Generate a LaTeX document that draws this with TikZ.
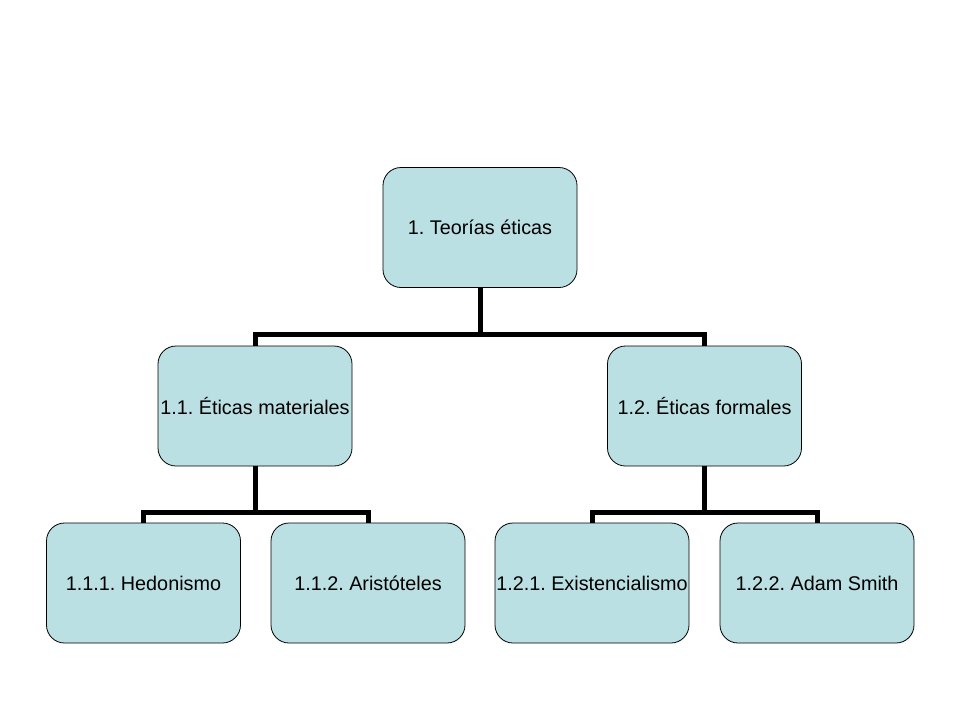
\documentclass[tikz,border=0pt]{standalone}
\usepackage{fontspec}
\setmainfont{Liberation Sans}
\definecolor{boxfill}{RGB}{187,224,227}
\begin{document}
\frenchspacing
\begin{tikzpicture}[x=1pt,y=-1pt,
  box/.style={draw=black, line width=0.8pt, fill=boxfill, rounded corners=18pt,
    minimum width=194pt, minimum height=120pt, inner sep=0pt,
    font=\fontsize{19.8}{23}\selectfont},
  conn/.style={line width=5pt, draw=black}]
\useasboundingbox (0,0) rectangle (960,720);
\node[box] (root) at (480,227.5) {1. Teorías éticas};
\node[box] (m) at (255,406) {1.1. Éticas materiales};
\node[box] (f) at (704.5,406) {1.2. Éticas formales};
\node[box] (h) at (143.5,583) {1.1.1. Hedonismo};
\node[box] (a) at (368,583) {1.1.2. Aristóteles};
\node[box] (e) at (592,583) {1.2.1. Existencialismo};
\node[box] (s) at (817,583) {1.2.2. Adam Smith};
\coordinate (j0) at (480,334);
\coordinate (j1) at (255,512);
\coordinate (j2) at (704.5,512);
\draw[conn] (root.south) -- (j0);
\draw[conn] (m.north) |- (j0) -| (f.north);
\draw[conn] (m.south) -- (j1);
\draw[conn] (h.north) |- (j1) -| (a.north);
\draw[conn] (f.south) -- (j2);
\draw[conn] (e.north) |- (j2) -| (s.north);
\end{tikzpicture}
\end{document}
